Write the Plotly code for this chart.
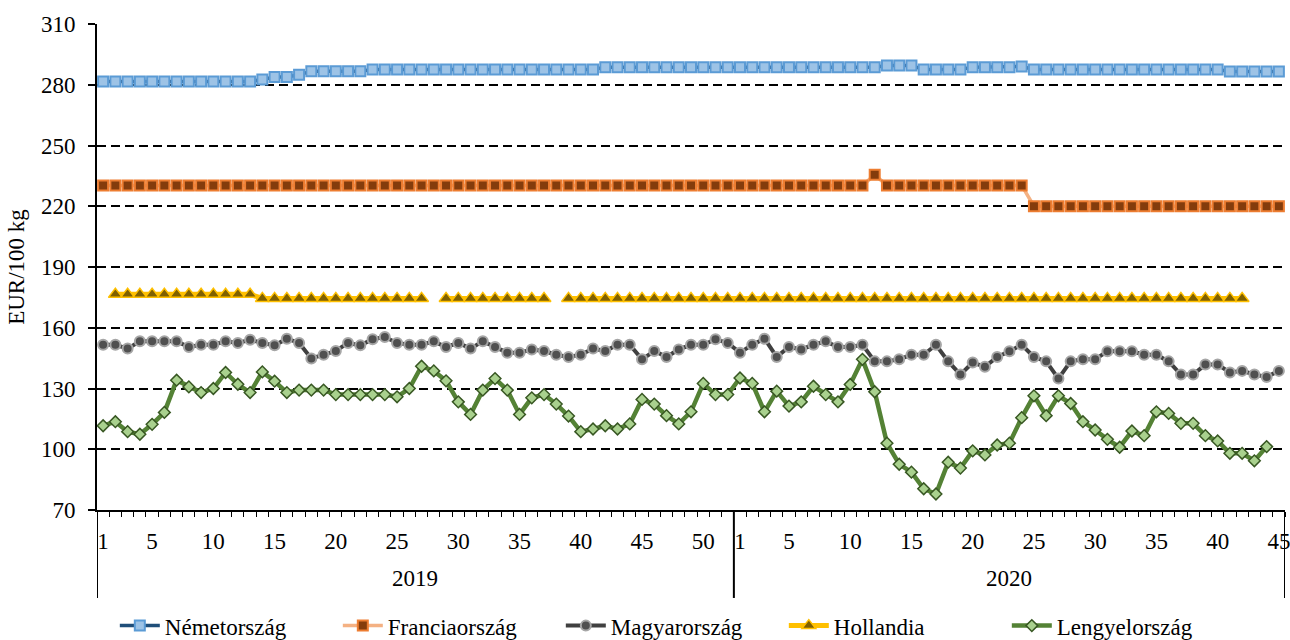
import plotly.graph_objects as go

# ---------------- data ----------------
weeks_2019 = list(range(1, 53))
weeks_2020 = list(range(1, 46))
years = ["2019"] * len(weeks_2019) + ["2020"] * len(weeks_2020)
weeks = weeks_2019 + weeks_2020

nemetorszag = (
    [281.6] * 13 + [282.6] + [283.8] * 2 + [284.9] + [286.7] * 5 + [287.5] * 19 + [288.7] * 11
    + [288.7] * 11 + [288.7] + [289.5] * 3 + [287.5] * 4 + [288.7] * 4 + [289.0] + [287.5] * 16 + [286.5] * 5
)

franciaorszag = (
    [230.3] * 52
    + [230.3] * 11 + [235.5] + [230.3] * 12 + [220.0] * 21
)

magyarorszag = [
    151.6, 151.6, 149.7, 153.3, 153.3, 153.3, 153.3, 150.5, 151.6, 151.6,
    153.3, 152.5, 154.1, 152.5, 151.3, 154.6, 152.5, 144.8, 146.7, 148.5,
    152.5, 151.3, 154.3, 155.4, 152.5, 151.6, 151.6, 153.3, 150.5, 152.5,
    149.7, 153.3, 150.5, 147.7, 147.7, 149.3, 148.5, 146.7, 145.6, 146.7,
    149.7, 148.5, 151.6, 151.6, 144.4, 148.5, 145.6, 149.3, 151.6, 151.6,
    154.3, 152.5,
    147.7, 151.6, 154.6, 145.6, 150.5, 149.3, 151.6, 153.3, 150.5, 150.5,
    151.6, 143.4, 143.4, 144.4, 146.7, 146.7, 151.6, 143.4, 136.9, 142.8,
    140.7, 145.6, 148.4, 151.6, 145.6, 143.4, 134.9, 143.4, 144.4, 144.4,
    148.4, 148.4, 148.4, 146.7, 146.7, 143.4, 136.9, 136.9, 141.8, 141.8,
    137.9, 138.7, 136.9, 135.7, 138.7,
]

hollandia = (
    [None] + [176.5] * 12 + [174.5] * 14 + [None] + [174.5] * 9 + [None] + [174.5] * 14
    + [174.5] * 42 + [None] * 3
)

lengyelorszag = [
    111.6, 113.6, 108.7, 107.4, 112.3, 118.2, 134.1, 130.8, 128.0, 130.0,
    137.9, 132.1, 128.0, 138.2, 133.6, 128.0, 129.2, 129.2, 129.2, 127.0,
    127.0, 127.0, 127.0, 127.0, 125.9, 130.0, 141.0, 138.7, 133.8, 123.4,
    117.2, 129.2, 134.9, 129.2, 117.2, 125.4, 127.0, 122.3, 116.4, 108.7,
    110.0, 111.6, 110.0, 112.5, 124.6, 122.3, 116.6, 112.5, 118.5, 132.5,
    127.0, 127.0,
    135.2, 132.5, 118.5, 128.7, 121.3, 123.4, 131.1, 127.0, 123.4, 132.0,
    144.4, 128.4, 103.0, 92.6, 88.7, 80.5, 77.9, 93.6, 90.7, 99.2,
    97.2, 102.1, 103.0, 115.6, 126.4, 116.6, 126.4, 122.6, 113.6, 109.5,
    104.9, 101.0, 109.0, 106.7, 118.5, 117.7, 112.8, 112.8, 106.7, 104.1,
    98.0, 98.0, 94.3, 101.3, None,
]

series_names = ["Németország", "Franciaország", "Magyarország", "Hollandia", "Lengyelország"]
y_title = "EUR/100 kg"
y_ticks = [70, 100, 130, 160, 190, 220, 250, 280, 310]

# ---------------- derived positions ----------------
x_idx = list(range(len(weeks)))
tickvals = [i for i, w in enumerate(weeks) if w == 1 or w % 5 == 0]
ticktext = [str(weeks[i]) for i in tickvals]
year_list = ["2019", "2020"]
year_first = [years.index(y) for y in year_list]
year_last = [len(years) - 1 - years[::-1].index(y) for y in year_list]
year_centers = [(a + b) / 2 for a, b in zip(year_first, year_last)]
dividers = [year_first[0] - 0.5] + [b + 0.5 for b in year_last]

FONT = "Liberation Serif"

styles = [
    dict(line=dict(color="#1F4E79", width=3.5),
         marker=dict(symbol="square", size=10, color="#9DC3E6", line=dict(color="#5B9BD5", width=2))),
    dict(line=dict(color="#F4B183", width=3.5),
         marker=dict(symbol="square", size=10, color="#843C0C", line=dict(color="#ED7D31", width=2))),
    dict(line=dict(color="#404040", width=4),
         marker=dict(symbol="circle", size=10, color="#505050", line=dict(color="#A6A6A6", width=2))),
    dict(line=dict(color="#FFC000", width=5),
         marker=dict(symbol="triangle-up", size=12, color="#7F6000", line=dict(color="#FFC000", width=1.5))),
    dict(line=dict(color="#548235", width=4.5),
         marker=dict(symbol="diamond", size=9, color="#A9D18E", line=dict(color="#385723", width=1.5))),
]
data_series = [nemetorszag, franciaorszag, magyarorszag, hollandia, lengyelorszag]

fig = go.Figure()
for name, vals, st in zip(series_names, data_series, styles):
    fig.add_trace(go.Scatter(x=x_idx, y=vals, mode="lines+markers", name=name,
                             connectgaps=False, line=st["line"], marker=st["marker"]))

shapes = [dict(type="line", xref="x", yref="paper", x0=d, x1=d, y0=0, y1=-0.181,
               line=dict(color="black", width=2)) for d in dividers]
annotations = [dict(x=c, y=-0.14, xref="x", yref="paper", text=y, showarrow=False,
                    yanchor="middle", font=dict(size=23, family=FONT, color="black"))
               for c, y in zip(year_centers, year_list)]

fig.update_layout(
    width=1290, height=640,
    margin=dict(l=97, r=5, t=24, b=130, autoexpand=False),
    paper_bgcolor="white", plot_bgcolor="white",
    font=dict(family=FONT, size=23, color="black"),
    showlegend=True,
    legend=dict(orientation="h", x=0.015, xanchor="left", y=-0.238, yanchor="middle",
                font=dict(size=23, family=FONT, color="black"), entrywidth=168,
                traceorder="normal", itemwidth=40),
    shapes=shapes,
    annotations=annotations,
    xaxis=dict(range=[-0.5, len(weeks) - 0.5], tickmode="array", tickvals=tickvals, ticktext=ticktext,
               ticks="", showline=True, linecolor="black", linewidth=2, showgrid=False, zeroline=False,
               ticklabelstandoff=9, ticklabeloverflow="allow",
               tickfont=dict(size=23, family=FONT, color="black"),
               minor=dict(tickmode="linear", tick0=-0.5, dtick=1, ticks="outside", ticklen=5,
                          tickcolor="black", tickwidth=1, showgrid=False)),
    yaxis=dict(range=[70, 310], tickmode="array", tickvals=y_ticks, ticks="outside", ticklen=7,
               tickwidth=1.5, tickcolor="black", showline=True, linewidth=2, linecolor="black",
               showgrid=True, gridcolor="black", gridwidth=1.5, griddash="9px,5px", zeroline=False,
               ticklabelstandoff=8, tickfont=dict(size=23, family=FONT, color="black"),
               title=dict(text=y_title, font=dict(size=23, family=FONT, color="black"), standoff=10)),
)

fig.write_html("out.html", config={"displayModeBar": False},
               post_script="document.body.style.margin='0';document.body.style.overflow='hidden';")
